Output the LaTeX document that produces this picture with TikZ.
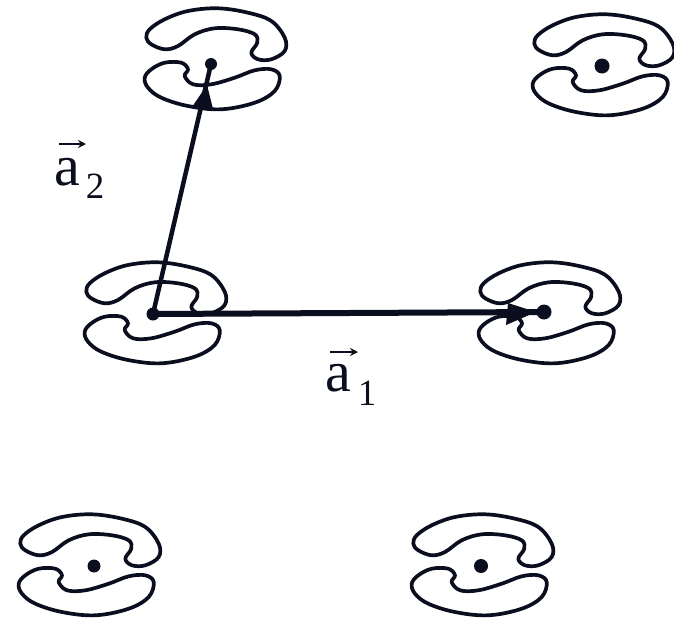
\documentclass[tikz,border=0pt]{standalone}
\usepackage{fontspec}
\setmainfont{Liberation Serif}
\usetikzlibrary{arrows.meta}
\definecolor{ink}{RGB}{10,14,30}
\tikzset{
  x=1pt,y=-1pt,
  outlinestyle/.style={draw=ink,line width=3.7pt,line join=round},
  dotstyle/.style={circle,fill=ink,inner sep=0pt,minimum size=15pt},
  letterlab/.style={font=\fontsize{58}{60}\selectfont,inner sep=0pt,text=ink},
  sublab/.style={font=\fontsize{37}{40}\selectfont,inner sep=0pt,text=ink},
  vecline/.style={draw=ink,line cap=round},
  overarrow/.style={draw=ink,line width=2.2pt,-{Stealth[length=8pt,width=8pt]}},
  motif/.pic={
    \draw[outlinestyle] plot[smooth cycle,tension=0.6] coordinates {(-66.7,-22.3)(-61.7,-15.7)(-48.3,-10.7)(-35,-14)(-18.3,-25.7)(1.7,-31.7)(25,-30.7)(41.7,-25.7)(44.3,-17.3)(38.3,-7.3)(45,-0.7)(58.3,-0.7)(71.7,-9)(71.7,-22.3)(58.3,-39)(35,-47.3)(5,-51.7)(-25,-49)(-48.3,-40.7)(-63.3,-30.7)};
    \draw[outlinestyle] plot[smooth cycle,tension=0.6] coordinates {(-68.3,17.7)(-61.7,9.3)(-48.3,2.7)(-31.7,2.7)(-25,9.3)(-28.3,16)(-20,24.3)(-1.7,24.3)(21.7,17.7)(41.7,10.3)(58.3,9.3)(66.7,16)(61.7,31)(41.7,42.7)(8.3,49.3)(-25,46)(-51.7,37.7)(-65,27.7)};
  }
}
\begin{document}
\begin{tikzpicture}
\useasboundingbox (0,0) rectangle (674,624);
\pic at (213,60) {motif};
\pic at (601,66) {motif};
\pic at (153,314) {motif};
\pic at (547,314) {motif};
\pic at (87,566) {motif};
\pic at (480,566) {motif};
\node[dotstyle,minimum size=12pt] (tl) at (211,64) {};
\node[dotstyle] (tr) at (602,66) {};
\node[dotstyle,minimum size=13pt] (ml) at (153,314) {};
\node[dotstyle] (mr) at (544,312) {};
\node[dotstyle,minimum size=13pt] (bl) at (94,566) {};
\node[dotstyle,minimum size=14pt] (br) at (481,566) {};
\draw[vecline,line width=6pt] (ml.center) -- (mr.center);
\draw[vecline,line width=4.5pt] (ml.center) -- (tl.center);
\fill[ink] (508,303) -- (536,312) -- (506,325) -- cycle;
\fill[ink] (192,107) -- (207,85) -- (213,109) -- cycle;
\node[letterlab] (a2) at (67,172) {a};
\node[sublab] (s2) at (95,186) {2};
\coordinate (a2l) at (59,144);
\coordinate (a2r) at (86,144);
\draw[overarrow] (a2l) -- (a2r);
\node[letterlab] (a1) at (338,378) {a};
\node[sublab] (s1) at (367,393) {1};
\coordinate (a1l) at (330,352);
\coordinate (a1r) at (358,352);
\draw[overarrow] (a1l) -- (a1r);
\end{tikzpicture}
\end{document}
